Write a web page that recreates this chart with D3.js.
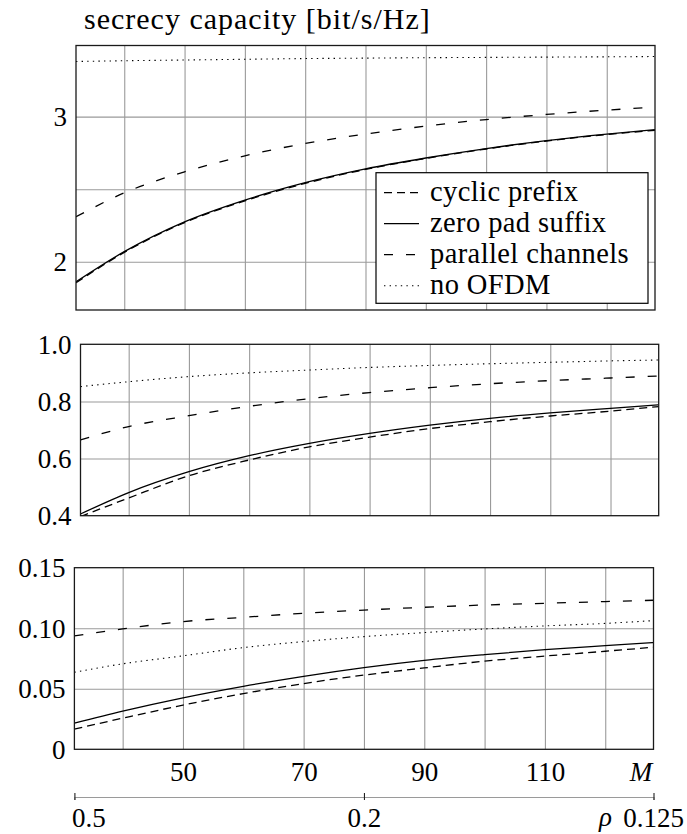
<!DOCTYPE html>
<html>
<head>
<meta charset="utf-8">
<script src="https://cdn.jsdelivr.net/npm/d3@7/dist/d3.min.js"></script>
<style>
  body { margin: 0; background: #fff; }
  svg text { font-family: "Liberation Serif", serif; fill: #000; }
</style>
</head>
<body>
<div id="chart"></div>
<script>
// subcarriers M, and rho = 16 / M
const mValues = [32, 40, 50, 60, 70, 80, 90, 100, 110, 120, 128];
const mTicks = [50, 70, 90, 110];
const mGrid = [40, 50, 60, 70, 80, 90, 100, 110, 120];
const rhoTicks = [0.5, 0.2, 0.125];

// top panel
const cpTop = [1.855, 2.065, 2.27, 2.42, 2.54, 2.636, 2.712, 2.777, 2.832, 2.877, 2.906];
const zpTop = [1.862, 2.07, 2.275, 2.425, 2.545, 2.64, 2.715, 2.78, 2.835, 2.88, 2.91];
const parTop = [2.31, 2.475, 2.62, 2.73, 2.815, 2.88, 2.935, 2.98, 3.015, 3.045, 3.065];
const noTop = [3.38, 3.385, 3.39, 3.395, 3.40, 3.403, 3.406, 3.408, 3.41, 3.412, 3.414];

// middle panel
const cpMid = [0.397, 0.462, 0.54, 0.595, 0.641, 0.675, 0.705, 0.729, 0.749, 0.766, 0.782];
const zpMid = [0.406, 0.481, 0.554, 0.61, 0.653, 0.688, 0.717, 0.741, 0.76, 0.776, 0.788];
const parMid = [0.665, 0.712, 0.75, 0.783, 0.81, 0.831, 0.848, 0.862, 0.873, 0.882, 0.889];
const noMid = [0.852, 0.869, 0.887, 0.90, 0.91, 0.919, 0.926, 0.932, 0.937, 0.942, 0.945];

// bottom panel
const cpBot = [0.0167, 0.0257, 0.0365, 0.046, 0.0543, 0.0613, 0.0672, 0.0728, 0.077, 0.081, 0.0843];
const zpBot = [0.0216, 0.0315, 0.0425, 0.052, 0.0603, 0.0675, 0.0735, 0.0782, 0.0823, 0.0856, 0.0881];
const parBot = [0.0936, 0.0994, 0.1055, 0.109, 0.1124, 0.115, 0.1173, 0.1192, 0.1206, 0.122, 0.1231];
const noBot = [0.0637, 0.0706, 0.0772, 0.084, 0.089, 0.0931, 0.0964, 0.0994, 0.1019, 0.104, 0.1063];

const seriesNames = ['cyclic prefix', 'zero pad suffix', 'parallel channels', 'no OFDM'];
const dashes = ['8,5', null, '9,13', '1.4,4.2'];

const svg = d3.select('#chart').append('svg')
  .attr('width', 687)
  .attr('height', 834);

const panels = [
  { left: 76, right: 655, top: 45.5, bottom: 310, domain: [1.668, 3.49],
    ticks: [2, 3], grid: [2, 2.5, 3], fmt: d3.format('d'), data: [cpTop, zpTop, parTop, noTop] },
  { left: 80.5, right: 658.7, top: 344.3, bottom: 515.7, domain: [0.4, 1.0],
    ticks: [0.4, 0.6, 0.8, 1.0], grid: [0.6, 0.8], fmt: d3.format('.1f'), data: [cpMid, zpMid, parMid, noMid] },
  { left: 74.4, right: 653.5, top: 567.7, bottom: 749.3, domain: [0, 0.15],
    ticks: [0, 0.05, 0.1, 0.15], grid: [0.05, 0.1], fmt: d => d === 0 ? '0' : d3.format('.2f')(d), data: [cpBot, zpBot, parBot, noBot] }
];

let lastX;
panels.forEach((p, i) => {
  const x = d3.scaleLinear().domain([32, 128]).range([p.left, p.right]);
  const y = d3.scaleLinear().domain(p.domain).range([p.bottom, p.top]);
  lastX = x;
  const g = svg.append('g');

  g.append('clipPath').attr('id', 'clip' + i)
    .append('rect')
    .attr('x', p.left).attr('y', p.top)
    .attr('width', p.right - p.left).attr('height', p.bottom - p.top);

  // grid
  g.append('g')
    .attr('transform', `translate(0,${p.bottom})`)
    .call(d3.axisBottom(x).tickValues(mGrid).tickSize(-(p.bottom - p.top)).tickFormat(''))
    .call(s => s.select('.domain').remove())
    .selectAll('.tick line').attr('stroke', '#9a9a9a').attr('stroke-width', 1.1);

  g.append('g')
    .attr('transform', `translate(${p.left},0)`)
    .call(d3.axisLeft(y).tickValues(p.grid).tickSize(-(p.right - p.left)).tickFormat(''))
    .call(s => s.select('.domain').remove())
    .selectAll('.tick line').attr('stroke', '#9a9a9a').attr('stroke-width', 1.1);

  // y tick labels
  g.append('g')
    .attr('transform', `translate(${p.left},0)`)
    .call(d3.axisLeft(y).tickValues(p.ticks).tickSize(0).tickPadding(9).tickFormat(p.fmt))
    .call(s => s.select('.domain').remove())
    .selectAll('text')
    .style('font-size', '27px')
    .attr('dy', '0.34em');

  const line = d3.line()
    .x((d, k) => x(mValues[k]))
    .y(d => y(d))
    .curve(d3.curveMonotoneX);

  const lines = g.append('g').attr('clip-path', `url(#clip${i})`);
  p.data.forEach((vals, k) => {
    lines.append('path')
      .datum(vals)
      .attr('fill', 'none')
      .attr('stroke', '#000')
      .attr('stroke-width', k === 3 ? 1.1 : 1.3)
      .attr('stroke-dasharray', dashes[k])
      .attr('d', line);
  });

  g.append('rect')
    .attr('x', p.left).attr('y', p.top)
    .attr('width', p.right - p.left).attr('height', p.bottom - p.top)
    .attr('fill', 'none').attr('stroke', '#1a1a1a').attr('stroke-width', 1.3);

  if (i === 0) {
    // legend
    const lg = g.append('g').attr('transform', 'translate(376,172.7)');
    lg.append('rect')
      .attr('width', 272).attr('height', 130.6)
      .attr('fill', '#fff').attr('stroke', '#000').attr('stroke-width', 1.2);
    seriesNames.forEach((name, k) => {
      const cy = 20 + k * 31;
      lg.append('line')
        .attr('x1', 8).attr('x2', 43).attr('y1', cy).attr('y2', cy)
        .attr('stroke', '#000').attr('stroke-width', k === 3 ? 1.1 : 1.3)
        .attr('stroke-dasharray', dashes[k]);
      lg.append('text')
        .attr('x', 54).attr('y', cy + 8)
        .style('font-size', '28.5px')
        .style('letter-spacing', '0.4px')
        .text(name);
    });
  }
});

// title
svg.append('text')
  .attr('x', 84).attr('y', 29)
  .style('font-size', '30px')
  .style('letter-spacing', '1px')
  .text('secrecy capacity [bit/s/Hz]');

// M axis labels
svg.append('g')
  .attr('transform', 'translate(0,749.3)')
  .call(d3.axisBottom(lastX).tickValues(mTicks).tickSize(0).tickPadding(13))
  .call(s => s.select('.domain').remove())
  .selectAll('text')
  .style('font-size', '27px');

svg.append('text')
  .attr('x', 641).attr('y', 781)
  .attr('text-anchor', 'middle')
  .style('font-size', '27px')
  .style('font-style', 'italic')
  .text('M');

// rho axis, positioned by 1/rho (linear in M)
const invRho = d3.scaleLinear()
  .domain([16 / lastX.domain()[0], 16 / lastX.domain()[1]].map(v => 1 / v))
  .range(lastX.range());

const rhoAxis = svg.append('g')
  .attr('transform', 'translate(0,797)')
  .call(d3.axisBottom(invRho).tickValues(rhoTicks.map(r => 1 / r)).tickSize(3).tickPadding(8)
    .tickFormat(d => String(+(1 / d).toFixed(3))));
rhoAxis.select('.domain').attr('stroke', '#9a9a9a').attr('stroke-width', 1.2);
rhoAxis.selectAll('.tick line').attr('y1', -4).attr('y2', 3).attr('stroke', '#222').attr('stroke-width', 1.1);
rhoAxis.selectAll('text').style('font-size', '27px');
rhoAxis.selectAll('.tick').filter(d => Math.abs(d - 8) < 1e-9).select('text')
  .attr('text-anchor', 'end').attr('dx', '30px');
rhoAxis.selectAll('.tick').filter(d => Math.abs(d - 2) < 1e-9).select('text')
  .attr('dx', '14px');

svg.append('text')
  .attr('x', 612).attr('y', 797 + 29)
  .attr('text-anchor', 'end')
  .style('font-size', '27px')
  .style('font-style', 'italic')
  .text('ρ');

svg.selectAll('g').attr('font-family', null);
svg.selectAll('text').attr('fill', '#000');
</script>
</body>
</html>
